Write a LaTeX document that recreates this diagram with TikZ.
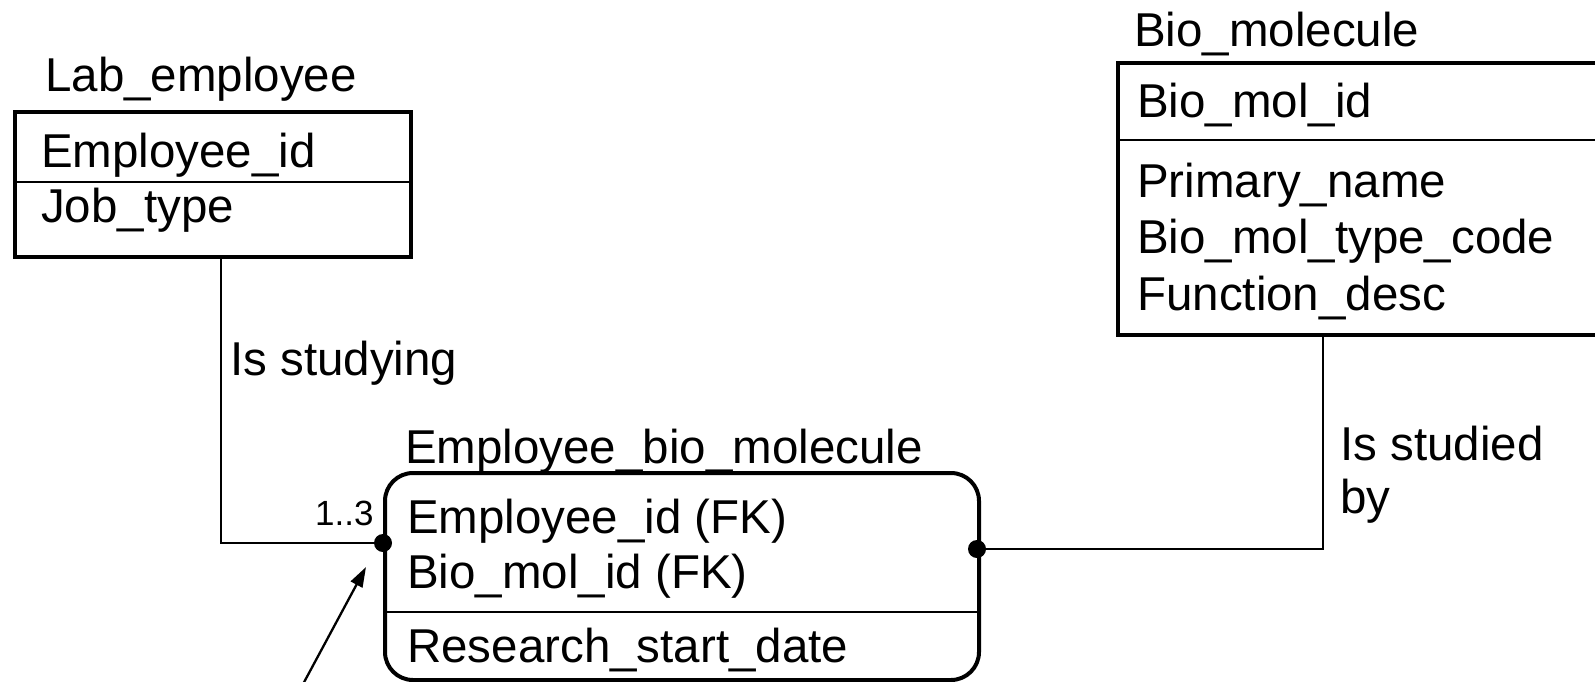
\documentclass[tikz,border=0pt]{standalone}
\usepackage{fontspec}
\setmainfont{Liberation Sans}
\usetikzlibrary{arrows.meta,positioning}

\begin{document}
\begin{tikzpicture}[x=1pt, y=-1pt,
    % entity box: thick frame, placed by its top left corner
    entity/.style={draw, line width=4pt, anchor=north west, inner sep=0pt},
    % attribute and name texts
    attr/.style={anchor=base west, inner sep=0pt, font=\fontsize{47.5}{57}\selectfont},
    % small cardinality text
    card/.style={anchor=base west, inner sep=0pt, font=\fontsize{35}{42}\selectfont},
    divider/.style={line width=2.3pt},
    conn/.style={line width=2.3pt},
    dot/.style={circle, fill, minimum size=18pt, inner sep=0pt}
]
    \useasboundingbox (0,0) rectangle (1595,681);

    % --- Lab_employee ---
    \node[entity, minimum width=396pt, minimum height=145pt] (labemp) at (13,110) {};
    \node[attr] (labempname) at (45,91) {Lab\_employee};
    \node[attr] (empid) at (41,167) {Employee\_id};
    \node[attr] (jobtype) at (41,222) {Job\_type};
    \draw[divider] (labemp.west |- 0,182) -- (labemp.east |- 0,182);

    % --- Bio_molecule (runs past the right edge) ---
    \node[entity, minimum width=490pt, minimum height=272pt] (biomol) at (1116,61) {};
    \node[attr] (biomolname) at (1134,46) {Bio\_molecule};
    \node[attr] (biomolid) at (1137,117) {Bio\_mol\_id};
    \draw[divider] (biomol.west |- 0,140) -- (biomol.east |- 0,140);
    \node[attr] (primname) at (1137,197) {Primary\_name};
    \node[attr] (typecode) at (1137,253) {Bio\_mol\_type\_code};
    \node[attr] (funcdesc) at (1137,310) {Function\_desc};

    % --- Employee_bio_molecule ---
    \node[entity, rounded corners=28pt, minimum width=594pt, minimum height=207pt] (empbio) at (383,471) {};
    \node[attr] (empbioname) at (405,463) {Employee\_bio\_molecule};
    \node[attr] (fkemp) at (407,533) {Employee\_id (FK)};
    \node[attr] (fkbio) at (407,588) {Bio\_mol\_id (FK)};
    \draw[divider] (empbio.west |- 0,612) -- (empbio.east |- 0,612);
    \node[attr] (startdate) at (407,662) {Research\_start\_date};

    % --- Relationships ---
    \node[dot] (dotL) at (383,543) {};
    \node[dot] (dotR) at (977,549) {};
    \draw[conn] ([xshift=8pt]labemp.south) |- (dotL);
    \draw[conn] (dotR) -| ([xshift=-40pt]biomol.south);
    \node[attr] (studying) at (230,375) {Is studying};
    \node[attr] (studied) at (1340,460) {Is studied};
    \node[attr] (studiedby) at (1340,513) {by};
    \node[card] (mult) at (315,525) {1..3};

    % pointer arrow from below
    \coordinate (arrtail) at (302,686);
    \coordinate (arrtip) at (366,567);
    \draw[conn, -{Triangle[length=20pt, width=13pt]}] (arrtail) -- (arrtip);

\end{tikzpicture}
\end{document}
